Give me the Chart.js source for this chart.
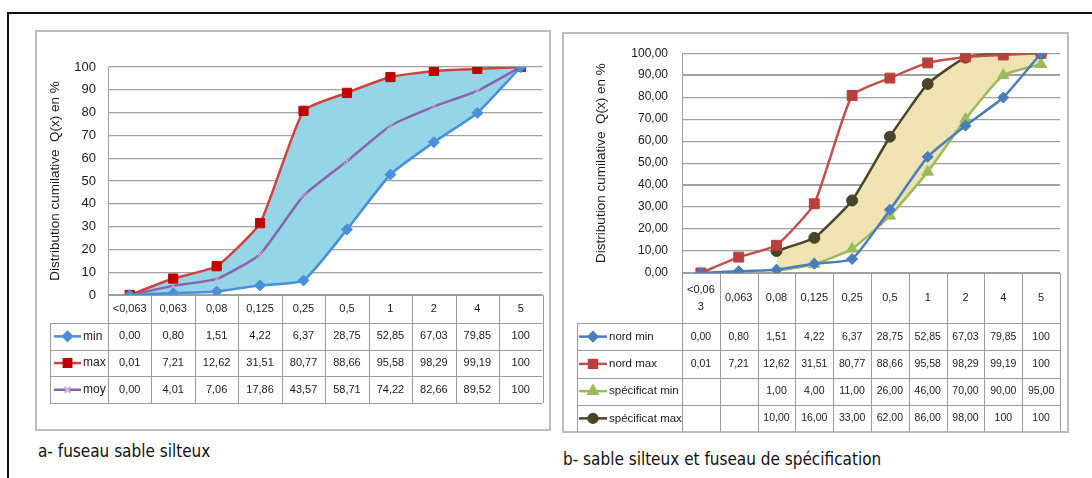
<!DOCTYPE html>
<html>
<head>
<meta charset="utf-8">
<script src="https://cdn.jsdelivr.net/npm/chart.js@4.4.1/dist/chart.umd.min.js"></script>
<style>
  body { margin: 0; background: #fff; width: 1092px; height: 478px; overflow: hidden; position: relative; }
  #frame { position: absolute; left: 7px; top: 12px; width: 1200px; height: 600px; border: 2px solid #111; }
  .box { position: absolute; border: 2px solid #bcbcbc; box-sizing: border-box; }
  .wrap { position: absolute; }
  .cap { position: absolute; font-family: 'Liberation Sans Narrow', 'DejaVu Sans Condensed', sans-serif; font-size: 17px; color: #111; white-space: nowrap; }
</style>
</head>
<body>
<div id="frame"></div>
<div class="box" style="left:35px;top:30px;width:516px;height:401px"></div>
<div class="box" style="left:562px;top:32px;width:507px;height:401px"></div>
<div class="wrap" style="left:35px;top:30px;width:515px;height:400px"><canvas id="chartA"></canvas></div>
<div class="wrap" style="left:562px;top:32px;width:506px;height:400px"><canvas id="chartB"></canvas></div>
<div class="cap" style="left:38px;top:441px">a- fuseau sable silteux</div>
<div class="cap" style="left:563px;top:449px">b- sable silteux et fuseau de spécification</div>

<script>
// sieve sizes (mm)
var categories = ['<0,063', '0,063', '0,08', '0,125', '0,25', '0,5', '1', '2', '4', '5'];

// a- fuseau sable silteux
var minA = [0.00, 0.80, 1.51, 4.22, 6.37, 28.75, 52.85, 67.03, 79.85, 100];
var maxA = [0.01, 7.21, 12.62, 31.51, 80.77, 88.66, 95.58, 98.29, 99.19, 100];
var moyA = [0.00, 4.01, 7.06, 17.86, 43.57, 58.71, 74.22, 82.66, 89.52, 100];

// b- sable silteux et fuseau de specification
var nordMin = [0.00, 0.80, 1.51, 4.22, 6.37, 28.75, 52.85, 67.03, 79.85, 100];
var nordMax = [0.01, 7.21, 12.62, 31.51, 80.77, 88.66, 95.58, 98.29, 99.19, 100];
var specMin = [null, null, 1.00, 4.00, 11.00, 26.00, 46.00, 70.00, 90.00, 95.00];
var specMax = [null, null, 10.00, 16.00, 33.00, 62.00, 86.00, 98.00, 100, 100];

var yTitle = 'Distribution cumilative  Q(x) en %';

Chart.defaults.font.family = "'Liberation Sans', Arial, sans-serif";
Chart.defaults.color = '#1a1a1a';

function fmt(v) {
  if (v === null || v === undefined) return '';
  if (v === 100) return '100';
  return v.toFixed(2).replace('.', ',');
}

// draws the Excel-like data table under the plot
var dataTable = {
  id: 'dataTable',
  afterDraw: function (chart, args, o) {
    var ctx = chart.ctx, a = chart.chartArea, x = chart.scales.x;
    var n = chart.data.labels.length;
    var w = a.width / n;
    var top = a.bottom, hb = top + o.headerH;
    var sets = chart.data.datasets;
    var bottom = hb + o.rowH * sets.length;

    ctx.save();
    ctx.strokeStyle = o.lineColor;
    ctx.lineWidth = 1;
    ctx.beginPath();
    ctx.moveTo(a.left, Math.round(top) + 0.5);
    ctx.lineTo(a.right, Math.round(top) + 0.5);
    for (var i = 0; i <= n; i++) {
      var xx = Math.round(a.left + i * w) + 0.5;
      ctx.moveTo(xx, top);
      ctx.lineTo(xx, bottom);
    }
    for (var k = 0; k <= sets.length; k++) {
      var yy = Math.round(hb + k * o.rowH) + 0.5;
      ctx.moveTo(o.legendLeft, yy);
      ctx.lineTo(a.right, yy);
    }
    ctx.moveTo(o.legendLeft + 0.5, hb);
    ctx.lineTo(o.legendLeft + 0.5, bottom);
    ctx.stroke();

    // header labels
    ctx.fillStyle = '#1a1a1a';
    ctx.textAlign = 'center';
    ctx.textBaseline = 'middle';
    ctx.font = o.headerFont;
    chart.data.labels.forEach(function (lab, i) {
      var cx = x.getPixelForValue(i);
      var lines = [lab];
      if (ctx.measureText(lab).width > w - 4) {
        var cut = lab.length;
        while (cut > 1 && ctx.measureText(lab.slice(0, cut)).width > w - 4) cut--;
        lines = [lab.slice(0, cut), lab.slice(cut)];
      }
      var lh = 17;
      lines.forEach(function (t, j) {
        ctx.fillText(t, cx, top + o.headerH / 2 + (j - (lines.length - 1) / 2) * lh);
      });
    });

    // rows
    sets.forEach(function (d, k) {
      var cy = hb + k * o.rowH + o.rowH / 2;
      var x0 = o.legendLeft + o.sampleX0, x1 = o.legendLeft + o.sampleX1;
      ctx.strokeStyle = d.borderColor;
      ctx.lineWidth = 2.5;
      ctx.beginPath();
      ctx.moveTo(x0, cy);
      ctx.lineTo(x1, cy);
      ctx.stroke();
      ctx.fillStyle = d.pointBackgroundColor;
      ctx.strokeStyle = d.pointBorderColor;
      Chart.helpers.drawPoint(ctx, {
        pointStyle: d.pointStyle, radius: d.pointRadius * 0.8, borderWidth: d.pointBorderWidth || 1, rotation: 0
      }, (x0 + x1) / 2, cy);
      ctx.fillStyle = '#1a1a1a';
      ctx.font = o.legendFont;
      ctx.textAlign = 'left';
      ctx.fillText(d.label, x1 + 2, cy);
      ctx.font = o.cellFont;
      ctx.textAlign = 'center';
      d.data.forEach(function (v, i) {
        ctx.fillText(fmt(v), x.getPixelForValue(i), cy);
      });
    });
    ctx.restore();
  }
};

function lineSet(label, data, color, style, radius, extra) {
  var s = {
    label: label, data: data,
    borderColor: color, borderWidth: 2.5,
    pointStyle: style, pointRadius: radius,
    pointBackgroundColor: color, pointBorderColor: color, pointBorderWidth: 1,
    tension: 0.15, fill: false
  };
  for (var k in extra) s[k] = extra[k];
  return s;
}

function makeOptions(cfg) {
  return {
    responsive: true,
    maintainAspectRatio: false,
    animation: false,
    layout: { padding: cfg.padding },
    plugins: {
      legend: { display: false },
      tooltip: { enabled: false },
      filler: { drawTime: 'beforeDatasetsDraw' },
      dataTable: cfg.table
    },
    scales: {
      x: {
        offset: true,
        grid: { display: false },
        border: { display: false },
        ticks: { display: false },
        afterFit: function (s) { s.height = cfg.table.headerH; }
      },
      y: {
        min: 0, max: 100,
        afterFit: function (s) { s.width = cfg.yWidth; },
        ticks: {
          stepSize: 10, padding: cfg.tickPad,
          font: { size: cfg.tickSize },
          callback: cfg.tickFmt
        },
        grid: {
          color: '#a0a0a0', drawTicks: false,
          lineWidth: cfg.gridWidth || 1.2
        },
        border: { display: true, color: '#a0a0a0' },
        title: {
          display: true, text: yTitle,
          font: { size: 13.5 }, padding: { top: cfg.titlePad, bottom: 0 }
        }
      }
    }
  };
}

new Chart(document.getElementById('chartA'), {
  type: 'line',
  data: {
    labels: categories,
    datasets: [
      lineSet('min', minA, '#4a8fdb', 'rectRot', 5.5),
      lineSet('max', maxA, '#d2403f', 'rect', 6.5, {
        pointBackgroundColor: '#c00000', pointBorderColor: '#c00000',
        fill: { target: 0 }, backgroundColor: '#95d5e8'
      }),
      lineSet('moy', moyA, '#8a62ad', 'crossRot', 5, {
        pointBorderColor: '#c9b8dc', pointBackgroundColor: '#c9b8dc', pointBorderWidth: 1
      })
    ]
  },
  options: makeOptions({
    padding: { left: 7, right: 7, top: 37, bottom: 107 },
    yWidth: 66, tickPad: 12, tickSize: 13, titlePad: 5,
    tickFmt: function (v) { return v; },
    table: {
      headerH: 28, rowH: 26.7, legendLeft: 15, sampleX0: 4, sampleX1: 31,
      lineColor: '#9c9c9c', headerFont: '11px "Liberation Sans", Arial',
      cellFont: '11px "Liberation Sans", Arial', legendFont: '12px "Liberation Sans", Arial'
    }
  }),
  plugins: [dataTable]
});

new Chart(document.getElementById('chartB'), {
  type: 'line',
  data: {
    labels: categories,
    datasets: [
      lineSet('nord min', nordMin, '#4a7ebb', 'rectRot', 5.5),
      lineSet('nord max', nordMax, '#c0504d', 'rect', 7, {
        pointBackgroundColor: '#b8403d', pointBorderColor: '#b8403d'
      }),
      lineSet('spécificat min', specMin, '#9bbb59', 'triangle', 6.5),
      lineSet('spécificat max', specMax, '#4a4528', 'circle', 5.5, {
        fill: { target: 2 }, backgroundColor: '#efe2b3'
      })
    ]
  },
  options: makeOptions({
    padding: { left: 7, right: 0, top: 12, bottom: 109 },
    yWidth: 113, tickPad: 14, tickSize: 12, titlePad: 24,
    gridWidth: function (c) { return (c.tick && (c.tick.value === 90 || c.tick.value === 40)) ? 2 : 1.2; },
    tickFmt: function (v) { return v.toFixed(2).replace('.', ','); },
    table: {
      headerH: 50, rowH: 27.25, legendLeft: 15, sampleX0: 2, sampleX1: 30,
      lineColor: '#9c9c9c', headerFont: '11px "Liberation Sans", Arial',
      cellFont: '10.5px "Liberation Sans", Arial', legendFont: '11.5px "Liberation Sans", Arial'
    }
  }),
  plugins: [dataTable]
});
</script>
</body>
</html>
